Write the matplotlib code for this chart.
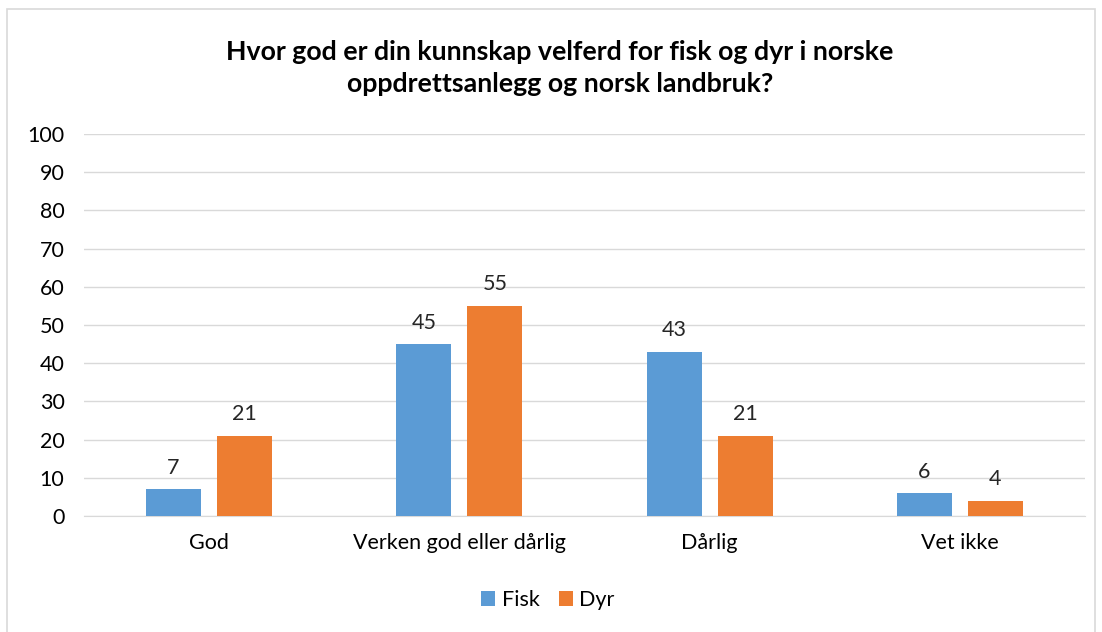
import numpy as np
import matplotlib.pyplot as plt
from matplotlib.patches import Rectangle

categories = ["God", "Verken god eller dårlig", "Dårlig", "Vet ikke"]
fisk = [7, 45, 43, 6]
dyr = [21, 55, 21, 4]
series_names = ["Fisk", "Dyr"]
colors = ["#5B9BD5", "#ED7D31"]
title = "Hvor god er din kunnskap velferd for fisk og dyr i norske\noppdrettsanlegg og norsk landbruk?"

plt.rcParams['font.family'] = ['Lato', 'DejaVu Sans']

fig = plt.figure(figsize=(11.02, 6.32), dpi=100)
ax = fig.add_axes([0.0762, 0.1835, 0.9084, 0.6045])

# ramme rundt diagrammet
fig.patches.append(Rectangle((7 / 1102, -0.05), (1095 - 7) / 1102, (632 - 9) / 632 + 0.05,
                             transform=fig.transFigure, fill=False,
                             edgecolor="#D9D9D9", linewidth=1.2))

fs = 15.5
x = np.arange(len(categories))
w = 0.22
off = 0.142
for vals, name, c, d in zip([fisk, dyr], series_names, colors, [-off, off]):
    bars = ax.bar(x + d, vals, width=w, color=c, label=name, zorder=3)
    for b, v in zip(bars, vals):
        ax.text(b.get_x() + b.get_width() / 2, v + 3, str(v),
                ha="center", va="bottom", fontsize=fs, color="#262626")

ax.set_xlim(-0.5, len(categories) - 0.5)
ax.set_ylim(0, 100)
ax.set_yticks(range(0, 101, 10))
ax.set_xticks(x)
ax.set_xticklabels(categories)
ax.grid(axis="y", color="#D9D9D9", linewidth=1, zorder=0)
for s in ["top", "right", "left"]:
    ax.spines[s].set_visible(False)
ax.spines["bottom"].set_color("#D9D9D9")
ax.tick_params(axis="both", length=0, labelsize=fs, colors="#000000")
ax.tick_params(axis="x", pad=12)
ax.tick_params(axis="y", pad=14)

fig.text(0.508, 0.893, title, ha="center", va="center", fontsize=19.3,
         fontweight="bold", linespacing=1.4)

ax.legend(loc="center", bbox_to_anchor=(548 / 1102, (632 - 600) / 632),
          bbox_transform=fig.transFigure, ncol=2, frameon=False,
          fontsize=fs, handlelength=0.65, handleheight=0.65,
          handletextpad=0.3, columnspacing=0.9)

fig.savefig("out.png", dpi=100)
